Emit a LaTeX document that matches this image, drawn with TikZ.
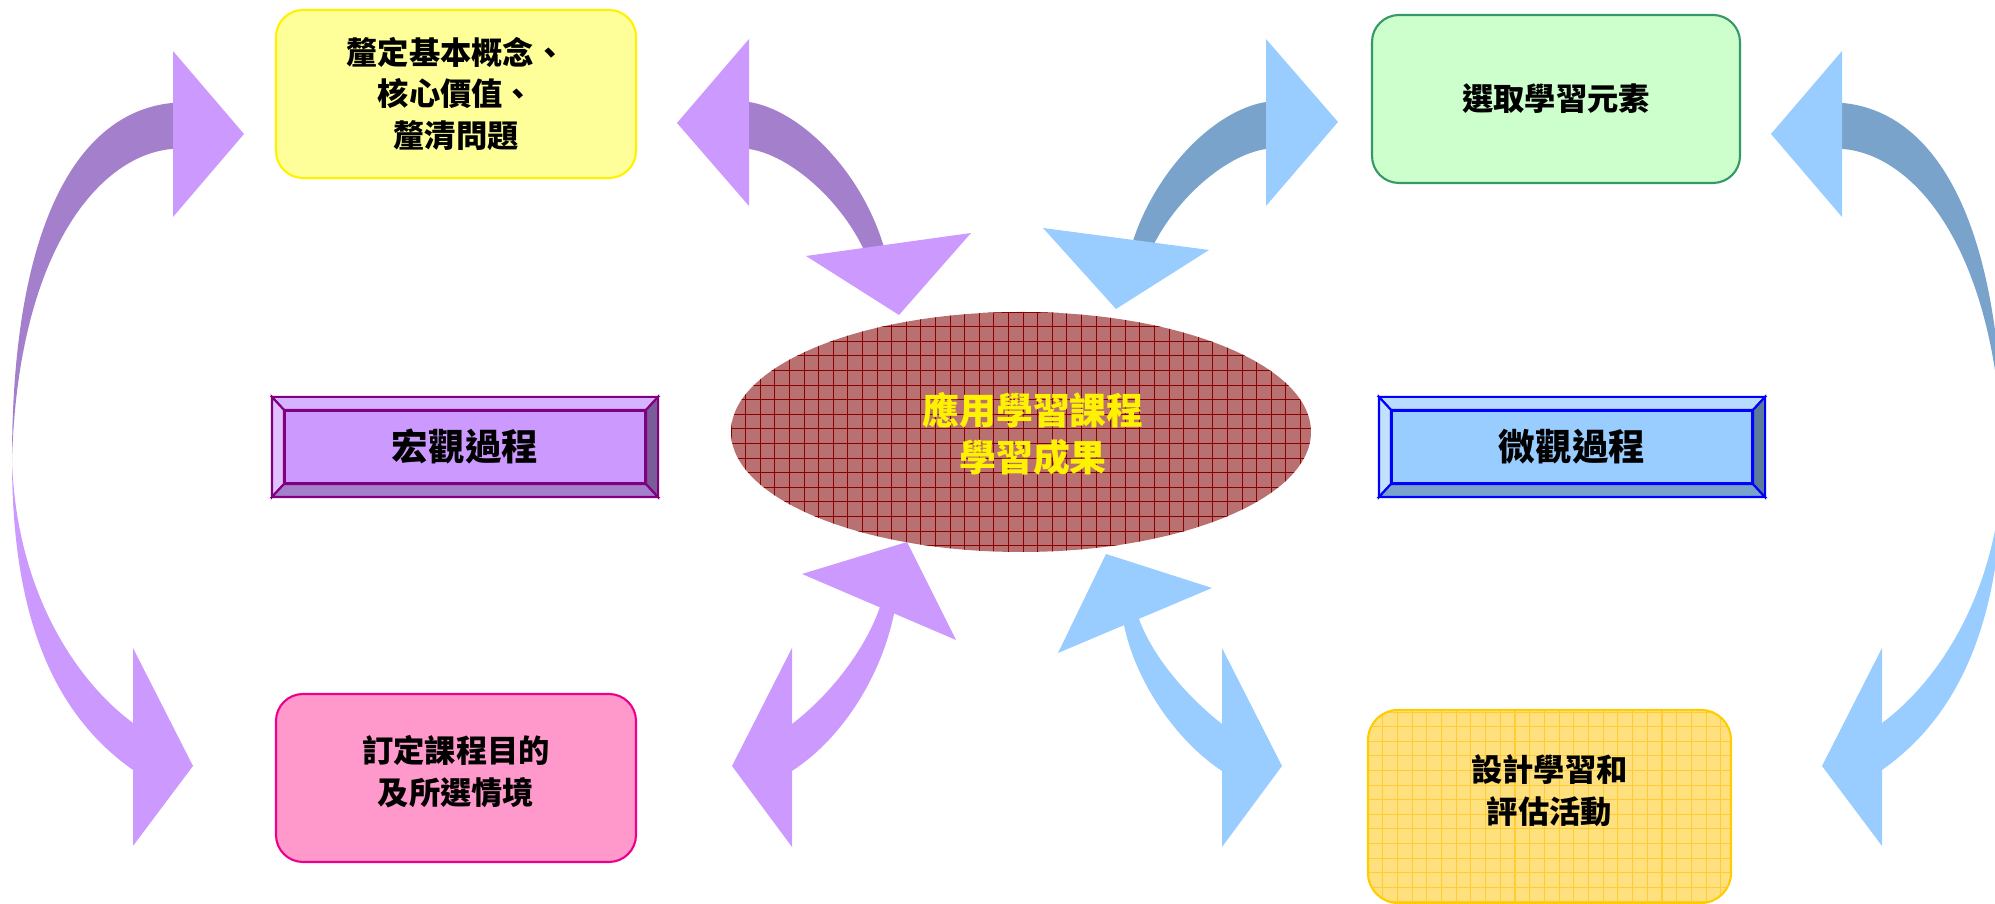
\documentclass[tikz,border=0pt]{standalone}
\usepackage{fontspec}
\newfontfamily\cjk{Noto Sans CJK TC}
\usetikzlibrary{shapes.geometric}

\definecolor{lilac}{HTML}{CC99FF}
\definecolor{lilacpale}{HTML}{E0C2FF}
\definecolor{lilaclight}{HTML}{D6B3FF}
\definecolor{lilacdark}{HTML}{A37FCC}
\definecolor{lilacdeep}{HTML}{7A5C99}
\definecolor{plum}{HTML}{800080}
\definecolor{sky}{HTML}{99CCFF}
\definecolor{skypale}{HTML}{C2E0FF}
\definecolor{skylight}{HTML}{B8DBFF}
\definecolor{skydark}{HTML}{7AA3CC}
\definecolor{skydeep}{HTML}{5C7A99}
\definecolor{lemon}{HTML}{FFFF99}
\definecolor{mint}{HTML}{CCFFCC}
\definecolor{mintline}{HTML}{339966}
\definecolor{rose}{HTML}{FF99CC}
\definecolor{gold}{HTML}{FFE07F}
\definecolor{goldline}{HTML}{FFCC00}
\definecolor{goldgrid}{HTML}{FFCC33}
\definecolor{brick}{HTML}{B87070}
\definecolor{brickline}{HTML}{8B0000}

\begin{document}
\begin{tikzpicture}[x=0.1mm,y=-0.1mm,
    cardtext/.style={font=\cjk\bfseries\fontsize{8.9pt}{11.9pt}\selectfont, align=center},
    card/.style={cardtext, rounded corners=2.7mm, line width=0.6pt,
      minimum width=36mm, minimum height=16.8mm, inner sep=0pt},
    bevelbox/.style={draw, line width=0.6pt, minimum width=36mm, minimum height=7.2mm,
      inner sep=0pt, font=\cjk\bfseries\fontsize{10.4pt}{12pt}\selectfont}]
  \useasboundingbox (0,0) rectangle (1995,904);
  \clip (0,0) rectangle (1995,904);

  % boxes
  \node[card, fill=lemon, draw=yellow] (concept) at (456,94) {釐定基本概念、\\核心價值、\\釐清問題};
  \node[card, fill=mint, draw=mintline, minimum width=36.8mm] (elements) at (1556,99) {選取學習元素};
  \node[card, fill=rose, draw=magenta,
    label={[cardtext, yshift=0.6mm]center:{訂定課程目的\\及所選情境}}] (aims) at (456,778) {};
  \node[card, fill=gold, draw=goldline, rounded corners=3mm, minimum width=36.3mm, minimum height=19.3mm,
    path picture={
      \foreach \i in {0,...,25}
        \draw[goldgrid, line width=0.3pt] ([xshift=\i*1.47mm]path picture bounding box.north west) -- ([xshift=\i*1.47mm]path picture bounding box.south west);
      \foreach \i in {0,...,13}
        \draw[goldgrid, line width=0.3pt] ([yshift=-0.21mm-\i*1.46mm]path picture bounding box.north west) -- ([yshift=-0.21mm-\i*1.46mm]path picture bounding box.north east);
    },
    label={[cardtext, yshift=1.55mm]center:{設計學習和\\評估活動}}] (design) at (1549.5,806.5) {};

  \node[ellipse, fill=brick, minimum width=58mm, minimum height=24mm, inner sep=0pt,
    path picture={
      \foreach \i in {0,...,40}
        \draw[brickline, line width=0.25pt] ([xshift=\i*1.46mm]path picture bounding box.north west) -- ([xshift=\i*1.46mm]path picture bounding box.south west);
      \foreach \i in {0,...,17}
        \draw[brickline, line width=0.25pt] ([yshift=-\i*1.46mm]path picture bounding box.north west) -- ([yshift=-\i*1.46mm]path picture bounding box.north east);
    },
    label={[font=\cjk\bfseries\fontsize{10.5pt}{13.4pt}\selectfont, align=center, text=yellow, xshift=1.2mm, yshift=-0.2mm]center:{應用學習課程\\學習成果}}] (outcome) at (1021,432) {};

  % bevelled boxes
  \node[bevelbox, fill=lilac, draw=plum] (macro) at (465,447) {宏觀過程};
  \node[bevelbox, fill=sky, draw=blue] (micro) at (1572,447) {微觀過程};
  \foreach \bx/\cpale/\clight/\cdark/\cdeep/\cedge in {macro/lilacpale/lilaclight/lilacdark/lilacdeep/plum, micro/skypale/skylight/skydark/skydeep/blue} {
    \draw[\cedge, fill=\clight, line width=0.6pt] ([shift={(-12,-13)}]\bx.north west) -- ([shift={(12,-13)}]\bx.north east) -- (\bx.north east) -- (\bx.north west) -- cycle;
    \draw[\cedge, fill=\cpale, line width=0.6pt] ([shift={(-12,-13)}]\bx.north west) -- (\bx.north west) -- (\bx.south west) -- ([shift={(-12,13)}]\bx.south west) -- cycle;
    \draw[\cedge, fill=\cdark, line width=0.6pt] ([shift={(-12,13)}]\bx.south west) -- ([shift={(12,13)}]\bx.south east) -- (\bx.south east) -- (\bx.south west) -- cycle;
    \draw[\cedge, fill=\cdeep, line width=0.6pt] ([shift={(12,-13)}]\bx.north east) -- (\bx.north east) -- (\bx.south east) -- ([shift={(12,13)}]\bx.south east) -- cycle;
  }

  % purple arrows
  \fill[lilacdark] (181,103) -- (172,103) .. controls (80,112) and (12,220) .. (12,460)
    .. controls (18,250) and (100,155) .. (172,149) -- (181,149) -- cycle;
  \fill[lilac] (12,460) .. controls (12,620) and (55,715) .. (133,770) -- (141,770) -- (141,723)
    -- (133,723) .. controls (75,680) and (16,590) .. (12,460) -- cycle;
  \fill[lilac] (173,51) -- (244,134) -- (173,217) -- cycle;
  \fill[lilac] (133,648) -- (193,766) -- (133,846) -- cycle;

  \fill[lilacdark] (741,102) -- (749,102) .. controls (800,110) and (860,170) .. (883,244) -- (887,256)
    -- (868,258) -- (863,248) .. controls (840,200) and (790,155) .. (749,149) -- (741,149) -- cycle;
  \fill[lilac] (749,39) -- (677,123) -- (749,206) -- cycle;
  \fill[lilac] (806,256) -- (971,233) -- (899,315) -- cycle;

  \fill[lilac] (786,771) -- (792,771) .. controls (840,740) and (880,680) .. (894,614) -- (896,604)
    -- (883,597) -- (880,607) .. controls (865,650) and (830,695) .. (792,724) -- (786,724) -- cycle;
  \fill[lilac] (802,574) -- (907,542) -- (956,640) -- cycle;
  \fill[lilac] (792,648) -- (732,766) -- (792,847) -- cycle;

  % blue arrows
  \fill[skydark] (1274,102) -- (1266,102) .. controls (1215,110) and (1155,170) .. (1132,244) -- (1128,256)
    -- (1147,258) -- (1152,248) .. controls (1175,200) and (1225,155) .. (1266,149) -- (1274,149) -- cycle;
  \fill[sky] (1266,39) -- (1338,122) -- (1266,206) -- cycle;
  \fill[sky] (1043,228) -- (1209,250) -- (1116,309) -- cycle;

  \fill[sky] (1228,771) -- (1222,771) .. controls (1175,740) and (1135,680) .. (1124,625) -- (1122,615)
    -- (1135,609) -- (1139,619) .. controls (1152,655) and (1185,695) .. (1222,724) -- (1228,724) -- cycle;
  \fill[sky] (1106,554) -- (1212,588) -- (1058,653) -- cycle;
  \fill[sky] (1222,648) -- (1282,766) -- (1222,847) -- cycle;

  \fill[skydark] (1834,103) -- (1843,103) .. controls (1935,112) and (2003,220) .. (2003,460)
    .. controls (1997,250) and (1915,155) .. (1843,149) -- (1834,149) -- cycle;
  \fill[sky] (2003,460) .. controls (2003,620) and (1960,715) .. (1882,770) -- (1874,770) -- (1874,723)
    -- (1882,723) .. controls (1940,680) and (1999,590) .. (2003,460) -- cycle;
  \fill[sky] (1842,51) -- (1771,134) -- (1842,217) -- cycle;
  \fill[sky] (1882,648) -- (1822,766) -- (1882,846) -- cycle;
\end{tikzpicture}
\end{document}
